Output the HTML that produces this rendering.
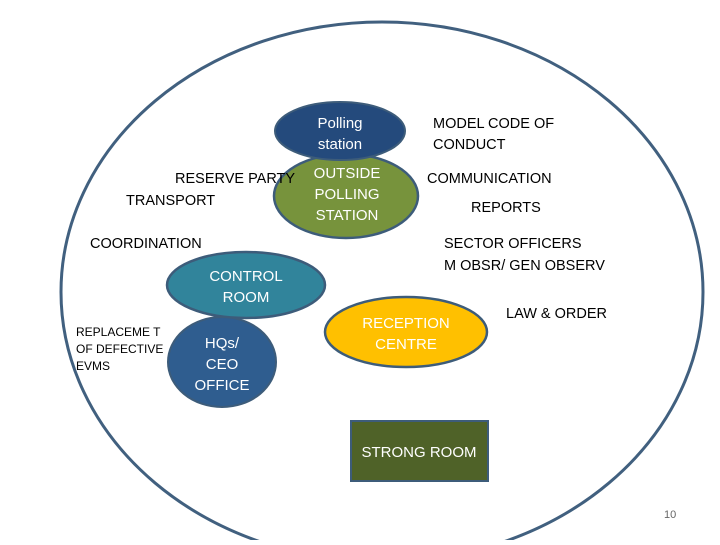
<!DOCTYPE html>
<html><head><style>
body{margin:0;width:720px;height:540px;overflow:hidden;background:#fff;}
svg text{font-family:"Liberation Sans",sans-serif;}
</style></head><body>
<svg width="720" height="540" viewBox="0 0 720 540" xmlns="http://www.w3.org/2000/svg">
<ellipse cx="382" cy="292" rx="321" ry="270" fill="none" stroke="#41607f" stroke-width="3"/>
<ellipse cx="346" cy="196" rx="72" ry="42" fill="#77933c" stroke="#3d5c7a" stroke-width="2.5"/>
<ellipse cx="340" cy="131" rx="65" ry="29" fill="#244a7c" stroke="#3d5c7a" stroke-width="2"/>
<ellipse cx="246" cy="285" rx="79" ry="33" fill="#31849b" stroke="#3d5c7a" stroke-width="2.5"/>
<ellipse cx="222" cy="362" rx="54" ry="45" fill="#2f5d8f" stroke="#3d5c7a" stroke-width="2"/>
<ellipse cx="406" cy="332" rx="81" ry="35" fill="#ffc000" stroke="#3d5c7a" stroke-width="2.5"/>
<rect x="351" y="421" width="137" height="60" fill="#4f6228" stroke="#3d5c7a" stroke-width="2"/>
<g fill="#fff" font-size="15" text-anchor="middle">
<text x="340" y="128">Polling</text><text x="340" y="149">station</text>
<text x="347" y="178">OUTSIDE</text><text x="347" y="199">POLLING</text><text x="347" y="220">STATION</text>
<text x="246" y="281">CONTROL</text><text x="246" y="302">ROOM</text>
<text x="222" y="348">HQs/</text><text x="222" y="369">CEO</text><text x="222" y="390">OFFICE</text>
<text x="406" y="328">RECEPTION</text><text x="406" y="349">CENTRE</text>
<text x="419" y="457">STRONG ROOM</text>
</g>
<g fill="#000" font-size="14.5">
<text x="175" y="183">RESERVE PARTY</text>
<text x="126" y="205">TRANSPORT</text>
<text x="90" y="248">COORDINATION</text>
<text x="433" y="128">MODEL CODE OF</text>
<text x="433" y="149">CONDUCT</text>
<text x="427" y="183">COMMUNICATION</text>
<text x="471" y="212">REPORTS</text>
<text x="444" y="248">SECTOR OFFICERS</text>
<text x="444" y="270">M OBSR/ GEN OBSERV</text>
<text x="506" y="318">LAW &amp; ORDER</text>
</g>
<g fill="#000" font-size="12">
<text x="76" y="336">REPLACEME T</text>
<text x="76" y="353">OF DEFECTIVE</text>
<text x="76" y="370">EVMS</text>
</g>
<text x="664" y="518" font-size="11" fill="#666">10</text>
</svg>
</body></html>
